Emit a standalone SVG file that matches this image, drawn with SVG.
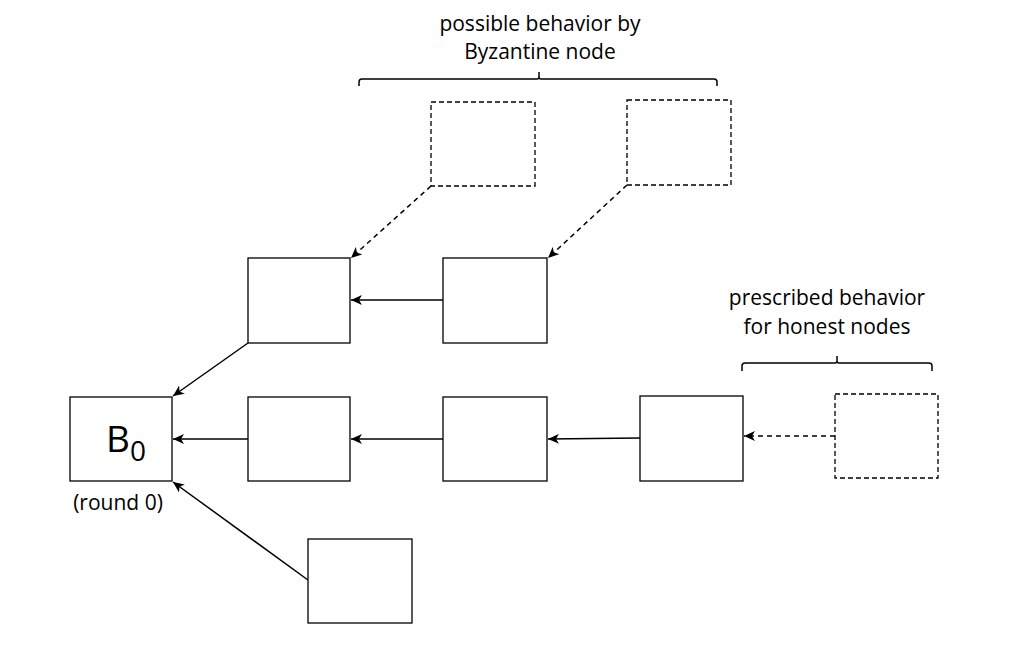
<svg xmlns="http://www.w3.org/2000/svg" width="1028" height="670" viewBox="0 0 1028 670">
<style>
.box{fill:#fff;stroke:#000;stroke-width:1.3}
.dbox{fill:#fff;stroke:#000;stroke-width:1.3;stroke-dasharray:5 3}
.c{fill:none;stroke:#000;stroke-width:1.5;marker-end:url(#ah)}
.dc{stroke-dasharray:5 4}
.br{fill:none;stroke:#000;stroke-width:1.5}
text{font-family:"Open Sans","Liberation Sans",sans-serif;fill:#000}
.lbl{font-size:21px;text-anchor:middle}
</style>
<defs>
<marker id="ah" viewBox="0 0 12 10" refX="11" refY="5" markerWidth="12" markerHeight="10" markerUnits="userSpaceOnUse" orient="auto">
<path d="M0,0 L11,5 L0,10 L3,5 Z" fill="#000"/>
</marker>
</defs>
<rect width="1028" height="670" fill="#fff"/>
<g id="connectors">
<line class="c dc" x1="431" y1="186" x2="351" y2="258"/>
<line class="c dc" x1="627" y1="185" x2="548" y2="258"/>
<line class="c" x1="443" y1="300" x2="351" y2="300"/>
<line class="c" x1="248" y1="343" x2="173" y2="396"/>
<line class="c" x1="248" y1="439" x2="173" y2="439"/>
<line class="c" x1="443" y1="439" x2="351" y2="439"/>
<line class="c" x1="640" y1="438" x2="548" y2="439"/>
<line class="c dc" x1="835" y1="436" x2="744" y2="436"/>
<line class="c" x1="308" y1="580" x2="173" y2="482"/>
</g>
<g id="B0">
<rect class="box" x="70" y="397" width="102" height="84"/>
<text x="106" y="452" font-size="37">B<tspan font-size="28" dy="9">0</tspan></text>
<text x="118" y="510" class="lbl">(round 0)</text>
</g>
<g id="n1"><rect class="box" x="248" y="258" width="102" height="85"/></g>
<g id="n2"><rect class="box" x="443" y="258" width="104" height="85"/></g>
<g id="n3"><rect class="box" x="248" y="397" width="102" height="84"/></g>
<g id="n4"><rect class="box" x="443" y="397" width="104" height="84"/></g>
<g id="n5"><rect class="box" x="640" y="396" width="103" height="85"/></g>
<g id="n6"><rect class="box" x="308" y="539" width="104" height="84"/></g>
<g id="d1"><rect class="dbox" x="431" y="102" width="104" height="84"/></g>
<g id="d2"><rect class="dbox" x="627" y="100" width="104" height="85"/></g>
<g id="d3"><rect class="dbox" x="835" y="394" width="103" height="84"/></g>
<g id="brace-byz">
<path class="br" d="M359,86 L359,82 Q359,79 362,79 L537,79 Q539,79 539,77 L539,72 M539,77 Q539,79 541,79 L714,79 Q717,79 717,82 L717,86"/>
<text x="540" y="31" class="lbl">possible behavior by</text>
<text x="540" y="59" class="lbl">Byzantine node</text>
</g>
<g id="brace-honest">
<path class="br" d="M742,371 L742,366 Q742,363 745,363 L835,363 Q837,363 837,361 L837,356 M837,361 Q837,363 839,363 L929,363 Q932,363 932,366 L932,371"/>
<text x="827" y="305" class="lbl">prescribed behavior</text>
<text x="827" y="334" class="lbl">for honest nodes</text>
</g>
</svg>
